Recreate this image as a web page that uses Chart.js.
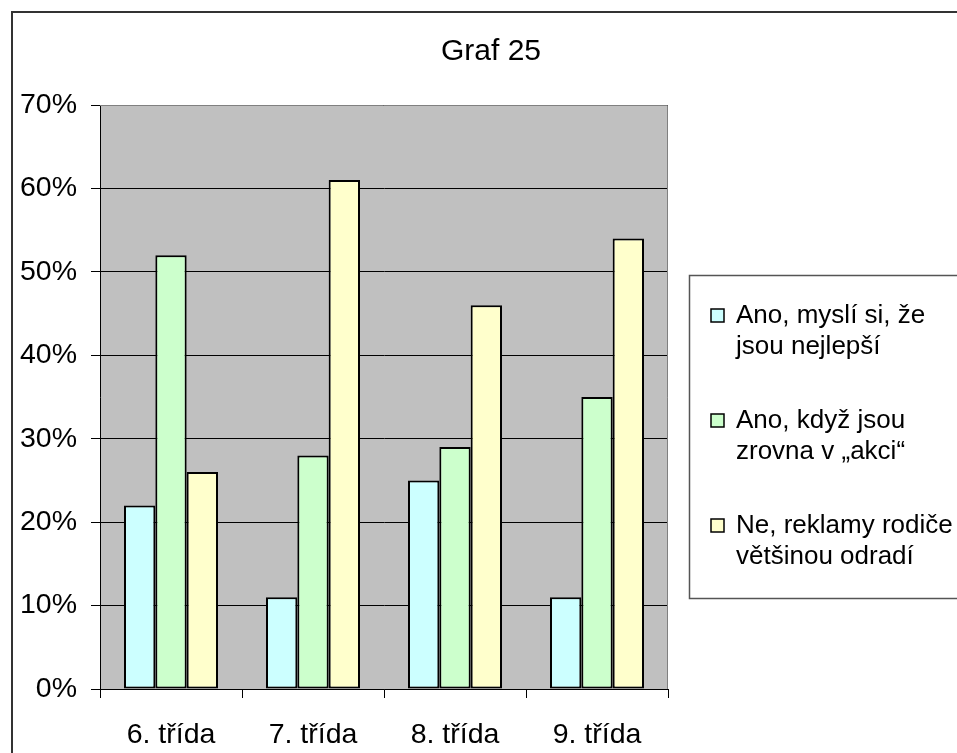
<!DOCTYPE html>
<html lang="cs">
<head>
<meta charset="UTF-8">
<title>Graf 25</title>
<script src="https://cdn.jsdelivr.net/npm/chart.js@4.4.0/dist/chart.umd.min.js"></script>
<style>
  html, body { margin: 0; padding: 0; background: #fff; }
  #wrap { width: 957px; height: 753px; }
</style>
</head>
<body>
<div id="wrap"><canvas id="graf"></canvas></div>
<script>
// data
var categories = ['6. třída', '7. třída', '8. třída', '9. třída'];
var seriesNames = [
  'Ano, myslí si, že jsou nejlepší',
  'Ano, když jsou zrovna v „akci“',
  'Ne, reklamy rodiče většinou odradí'
];
var legendLines = [
  ['Ano, myslí si, že', 'jsou nejlepší'],
  ['Ano, když jsou', 'zrovna v „akci“'],
  ['Ne, reklamy rodiče', 'většinou odradí']
];
var anoNejlepsi = [22, 11, 25, 11];
var anoAkce = [52, 28, 29, 35];
var neOdradi = [26, 61, 46, 54];
var yTicks = [0, 10, 20, 30, 40, 50, 60, 70];

var colors = ['#ccffff', '#ccffcc', '#ffffcc'];
var FONT = '"Liberation Sans", Arial, sans-serif';

// gray plot background, frame, title and the boxed legend on the right
var decor = {
  id: 'decor',
  beforeDraw: function (chart) {
    var c = chart.ctx, a = chart.chartArea;
    c.save();
    c.fillStyle = '#c0c0c0';
    c.fillRect(a.left, a.top, a.right - a.left, a.bottom - a.top);
    c.restore();
  },
  afterDraw: function (chart) {
    var c = chart.ctx, a = chart.chartArea;
    c.save();
    // top/right edge of plot
    c.strokeStyle = '#808080';
    c.lineWidth = 1;
    c.beginPath();
    c.moveTo(a.left, a.top + 0.5);
    c.lineTo(a.right - 0.5, a.top + 0.5);
    c.lineTo(a.right - 0.5, a.bottom);
    c.stroke();

    // outer frame
    c.strokeStyle = '#333';
    c.lineWidth = 2;
    c.strokeRect(12, 12, 1000, 1000);

    // title
    c.fillStyle = '#000';
    c.font = '30px ' + FONT;
    c.textAlign = 'center';
    c.textBaseline = 'middle';
    c.fillText('Graf 25', 491, 52);

    // legend
    c.strokeStyle = '#555';
    c.lineWidth = 1.5;
    c.strokeRect(689.5, 275.5, 400, 323);
    c.font = '26px ' + FONT;
    c.textAlign = 'left';
    c.textBaseline = 'alphabetic';
    var base = [323, 428, 533];
    chart.data.datasets.forEach(function (ds, i) {
      var y = base[i];
      c.fillStyle = ds.backgroundColor;
      c.fillRect(711, y - 14, 13, 13);
      c.strokeStyle = '#000';
      c.lineWidth = 1.5;
      c.strokeRect(711, y - 14, 13, 13);
      c.fillStyle = '#000';
      legendLines[i].forEach(function (line, j) {
        c.fillText(line, 736, y + j * 31);
      });
    });
    c.restore();
  }
};

var values = [anoNejlepsi, anoAkce, neOdradi];
var ctx = document.getElementById('graf').getContext('2d');
new Chart(ctx, {
  type: 'bar',
  data: {
    labels: categories,
    datasets: values.map(function (v, i) {
      return {
        label: seriesNames[i],
        data: v,
        backgroundColor: colors[i],
        borderColor: '#000',
        borderWidth: 2,
        borderSkipped: false,
        categoryPercentage: 0.662,
        barPercentage: 1
      };
    })
  },
  options: {
    responsive: true,
    maintainAspectRatio: false,
    animation: false,
    layout: { padding: { top: 105, right: 289, left: 0, bottom: 0 } },
    plugins: {
      legend: { display: false },
      title: { display: false },
      tooltip: { enabled: false }
    },
    scales: {
      x: {
        offset: true,
        grid: {
          offset: true,
          drawOnChartArea: false,
          color: '#000',
          tickLength: 9,
          lineWidth: 1
        },
        border: { color: '#000', width: 1 },
        ticks: {
          color: '#000',
          font: { family: FONT, size: 28.5 },
          padding: 20,
          maxRotation: 0
        },
        afterFit: function (s) { s.height = 64; }
      },
      y: {
        min: 0,
        max: 70,
        afterBuildTicks: function (s) {
          s.ticks = yTicks.map(function (v) { return { value: v }; });
        },
        grid: { color: '#000', tickLength: 9, lineWidth: 1 },
        border: { color: '#000', width: 1 },
        ticks: {
          color: '#000',
          font: { family: FONT, size: 28.5 },
          padding: 14,
          callback: function (v) { return v + '%'; }
        },
        afterFit: function (s) { s.width = 100; }
      }
    }
  },
  plugins: [decor]
});
</script>
</body>
</html>
